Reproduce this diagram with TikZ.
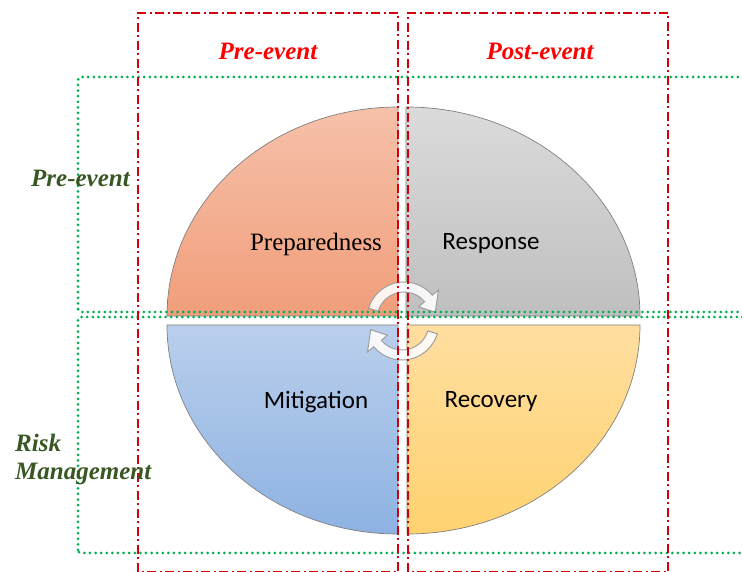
\documentclass[tikz,border=0pt]{standalone}
\usepackage{fontspec}
\setmainfont{Liberation Serif}
\newfontfamily\qfont{Carlito}
\definecolor{redline}{RGB}{210,0,10}
\definecolor{greenline}{RGB}{0,176,80}
\definecolor{darkgreen}{RGB}{56,87,35}
\definecolor{orangeT}{RGB}{246,193,170}
\definecolor{orangeB}{RGB}{241,158,122}
\definecolor{grayT}{RGB}{219,219,219}
\definecolor{grayB}{RGB}{191,191,191}
\definecolor{blueT}{RGB}{186,207,236}
\definecolor{blueB}{RGB}{141,178,226}
\definecolor{yellowT}{RGB}{255,222,160}
\definecolor{yellowB}{RGB}{255,210,112}
\begin{document}
\begin{tikzpicture}[x=1pt,y=1pt,
  redbox/.style={draw=redline, line width=2.6pt, dash pattern=on 9pt off 3.5pt on 2pt off 3.5pt},
  greenbox/.style={draw=greenline, line width=3pt, line cap=round, dash pattern=on 0pt off 5.6pt, rounded corners=3pt},
  quad/.style={draw=gray, line width=0.7pt},
  qlabel/.style={font=\qfont\fontsize{25}{29}\selectfont, text=black},
  slabel/.style={font=\fontsize{25}{29}\selectfont, text=black},
  redlabel/.style={font=\fontsize{25}{29}\selectfont\bfseries\itshape, text=red},
  greenlabel/.style={font=\fontsize{25}{28}\selectfont\bfseries\itshape, text=darkgreen, align=left, inner sep=0pt},
  cycarrow/.style={draw=gray!75, line width=1pt, fill=white, fill opacity=0.88}
]
\useasboundingbox (0,0) rectangle (742,572);
\clip (0,0) rectangle (742,572);

% quadrants
\draw[quad, top color=orangeT, bottom color=orangeB]
  (398,256) -- (167,256) arc[start angle=180, end angle=90, x radius=231, y radius=209] -- cycle;
\draw[quad, top color=grayT, bottom color=grayB]
  (406,256) -- (406,465) arc[start angle=90, end angle=0, x radius=234, y radius=209] -- cycle;
\draw[quad, top color=blueT, bottom color=blueB]
  (398,247) -- (167,247) arc[start angle=180, end angle=270, x radius=231, y radius=209] -- cycle;
\draw[quad, top color=yellowT, bottom color=yellowB]
  (407,247) -- (407,38) arc[start angle=270, end angle=360, x radius=233, y radius=209] -- cycle;

% circular arrows
\begin{scope}[shift={(404,253)}]
  \draw[cycarrow] (163:37) arc[start angle=163, end angle=40, radius=37]
    -- (40:45) -- (12:32) -- (40:19) -- (40:27)
    arc[start angle=40, end angle=163, radius=27] -- cycle;
\end{scope}
\begin{scope}[shift={(402,249)}, rotate=180]
  \draw[cycarrow] (163:37) arc[start angle=163, end angle=40, radius=37]
    -- (40:45) -- (12:32) -- (40:19) -- (40:27)
    arc[start angle=40, end angle=163, radius=27] -- cycle;
\end{scope}

% green dotted boxes
\draw[greenbox] (78,260) rectangle (770,495);
\draw[greenbox] (78,19) rectangle (770,255);

% red dash-dot boxes
\draw[redbox] (138,0) rectangle (398,559);
\draw[redbox] (408,0) rectangle (668,559);

% labels
\node[slabel] (prep) at (316,328) {Preparedness};
\node[qlabel] (resp) at (491,328) {Response};
\node[qlabel] (miti) at (316,170) {Mitigation};
\node[qlabel] (reco) at (491,170) {Recovery};

\node[redlabel] (prehead) at (268,521) {Pre-event};
\node[redlabel] (posthead) at (540,521) {Post-event};

\node[greenlabel, anchor=west] (preside) at (31,394) {Pre-event};
\node[greenlabel, anchor=west] (riskside) at (15,113) {Risk\\Management};
\end{tikzpicture}
\end{document}
